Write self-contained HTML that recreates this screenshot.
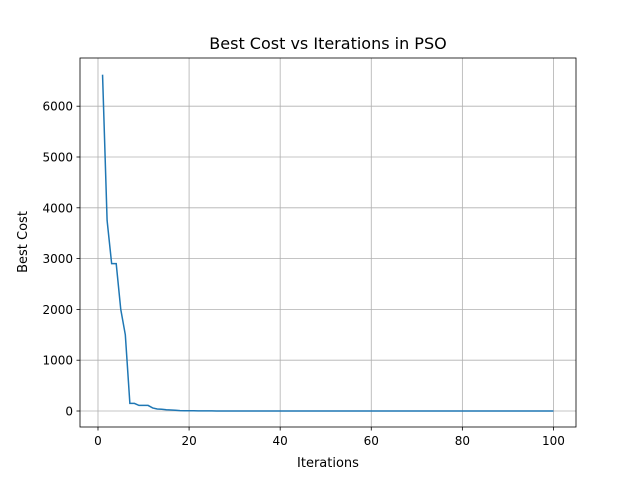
<!DOCTYPE html>
<html><head><meta charset="utf-8"><style>
body{margin:0;background:#fff;font-family:"Liberation Sans","DejaVu Sans",sans-serif}
</style></head><body>
<svg id="chart" width="640" height="480" xmlns="http://www.w3.org/2000/svg" font-family="DejaVu Sans, Liberation Sans, sans-serif">
<rect width="640" height="480" fill="#fff"/>
<text x="328" y="49" text-anchor="middle" font-size="16">Best Cost vs Iterations in PSO</text>
<text x="328" y="467" text-anchor="middle" font-size="13">Iterations</text>
<text transform="translate(27,242) rotate(-90)" text-anchor="middle" font-size="13">Best Cost</text>
<g id="grid"></g><g id="ticks"></g>
<path id="line" fill="none" stroke="#1f77b4" stroke-width="1.5"/>
<rect x="80" y="58" width="496" height="369" fill="none" stroke="#000" stroke-width="0.8"/>
</svg>
<script>
const iterations=[];for(let i=1;i<=100;i++)iterations.push(i);
const headCosts=[6620,3750,2900,2900,2000,1500,150,150,110,110,110,60,40,35,25,20,15,8,5,5,4,3,3,2,2];
const bestCost=iterations.map((v,i)=>i<headCosts.length?headCosts[i]:1);
const xTicks=[0,20,40,60,80,100];
const yTicks=[0,1000,2000,3000,4000,5000,6000];
const X=v=>80+(v+3.95)*496/108.9;
const Y=v=>411-v*0.0508;
const NS="http://www.w3.org/2000/svg";
const g=document.getElementById('grid'),t=document.getElementById('ticks');
function el(p,n,a){const e=document.createElementNS(NS,n);for(const k in a)e.setAttribute(k,a[k]);p.appendChild(e);return e;}
xTicks.forEach(v=>{const x=X(v);
const gl=el(g,'line',{x1:x,x2:x,y1:58,y2:427,stroke:'#b0b0b0','stroke-width':0.8});


el(t,'line',{x1:x,x2:x,y1:427,y2:430.5,stroke:'#000','stroke-width':0.8});
const tx=el(t,'text',{x:x,y:445,'text-anchor':'middle','font-size':12});tx.textContent=v;

});
yTicks.forEach(v=>{const y=Y(v);
const gl=el(g,'line',{x1:80,x2:576,y1:y,y2:y,stroke:'#b0b0b0','stroke-width':0.8});


el(t,'line',{x1:76.5,x2:80,y1:y,y2:y,stroke:'#000','stroke-width':0.8});
const tx=el(t,'text',{x:73,y:y+4.5,'text-anchor':'end','font-size':12});tx.textContent=v;

});
document.getElementById('line').setAttribute('d',iterations.map((v,i)=>(i?'L':'M')+X(v).toFixed(2)+','+Y(bestCost[i]).toFixed(2)).join(''));
</script>
</body></html>
